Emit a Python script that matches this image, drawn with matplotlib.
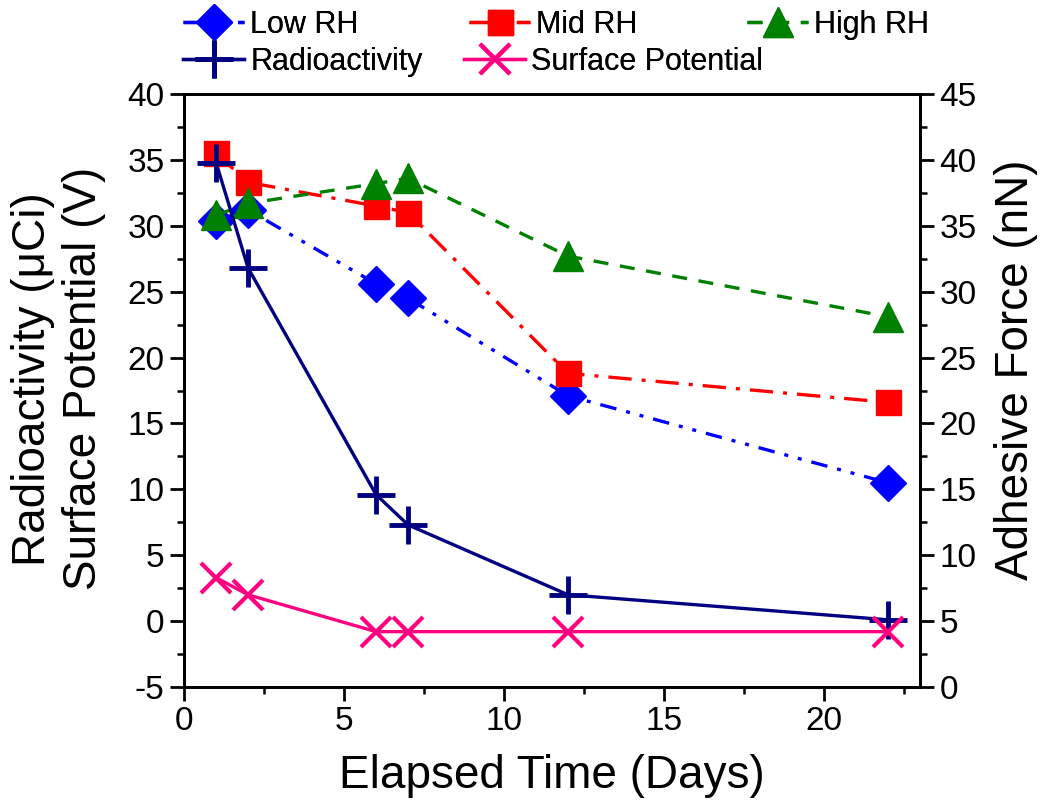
import matplotlib
matplotlib.use('Agg')
import matplotlib.pyplot as plt
from matplotlib.ticker import MultipleLocator

plt.rcParams['font.family'] = ['Liberation Sans', 'DejaVu Sans']
plt.rcParams['axes.unicode_minus'] = False

# Elapsed time (days)
days = [1, 2, 6, 7, 12, 22]

# Adhesive force (nN), right axis
low_rh = [35.4, 36.2, 30.6, 29.5, 22.1, 15.5]
mid_rh = [40.5, 38.3, 36.5, 36.0, 23.8, 21.6]
high_rh = [35.8, 36.7, 38.2, 38.6, 32.7, 28.1]

# Left axis
radioactivity = [34.8, 26.8, 9.6, 7.3, 2.0, 0.1]
surface_potential = [3.3, 2.0, -0.8, -0.8, -0.8, -0.8]

fig = plt.figure(figsize=(10.46, 8.07), dpi=100)
ax = fig.add_axes([0.176, 0.1487, 0.7035, 0.7348])
ax2 = ax.twinx()

# left axis series
l_rad, = ax.plot(days, radioactivity, color='#000080', lw=2.4, marker='+', ms=27, mew=3.5,
                 label='Radioactivity', zorder=3)
l_sp, = ax.plot(days, surface_potential, color='#FF0080', lw=2.4, marker='x', ms=22, mew=3,
                label='Surface Potential', zorder=3)

# right axis series
l_low, = ax2.plot(days, low_rh, color='#0000FF', lw=2.4, ls=(0, (5, 3, 1.2, 3, 1.2, 3)),
                  marker='D', ms=18, label='Low RH')
l_mid, = ax2.plot(days, mid_rh, color='#FF0000', lw=2.4, ls=(0, (7, 3, 1.2, 3)),
                  marker='s', ms=18, label='Mid RH')
l_high, = ax2.plot(days, high_rh, color='#008000', lw=2.4, ls=(0, (4.5, 3.5)),
                   marker='^', ms=22, label='High RH')

ax.set_xlim(0, 23)
ax.set_ylim(-5, 40)
ax2.set_ylim(0, 45)
ax.xaxis.set_major_locator(MultipleLocator(5))
ax.xaxis.set_minor_locator(MultipleLocator(2.5))
ax.yaxis.set_major_locator(MultipleLocator(5))
ax.yaxis.set_minor_locator(MultipleLocator(2.5))
ax2.yaxis.set_major_locator(MultipleLocator(5))
ax2.yaxis.set_minor_locator(MultipleLocator(2.5))

for a in (ax, ax2):
    for s in a.spines.values():
        s.set_linewidth(2)
    a.tick_params(which='major', direction='out', length=10, width=2, labelsize=24, pad=4)
    a.tick_params(which='minor', direction='out', length=5, width=1.8)

ax.set_xlabel('Elapsed Time (Days)', fontsize=33, labelpad=12)
ax.set_ylabel('Radioactivity (μCi)\nSurface Potential (V)', fontsize=33, linespacing=1.2)
ax.yaxis.set_label_coords(-0.106, 0.52)
ax2.set_ylabel('Adhesive Force (nN)', fontsize=33)
ax2.yaxis.set_label_coords(1.10, 0.535)

ax.set_zorder(ax2.get_zorder() + 1)
ax.patch.set_visible(False)

# legend entries placed one by one (x in figure pixels of handle start, row centre y)
leg_items = [(l_low, 'Low RH', 183, 25), (l_mid, 'Mid RH', 469, 25), (l_high, 'High RH', 747, 25),
             (l_rad, 'Radioactivity', 183, 62), (l_sp, 'Surface Potential', 464, 62)]
for h, lab, px, py in leg_items:
    leg = fig.legend([h], [lab], loc='center left', frameon=False, fontsize=22,
                     handlelength=2.0, handletextpad=0.2, borderpad=0, borderaxespad=0,
                     bbox_to_anchor=(px / 1046, 1 - py / 807))
    fig.add_artist(leg)

fig.savefig('out.png', dpi=100)
